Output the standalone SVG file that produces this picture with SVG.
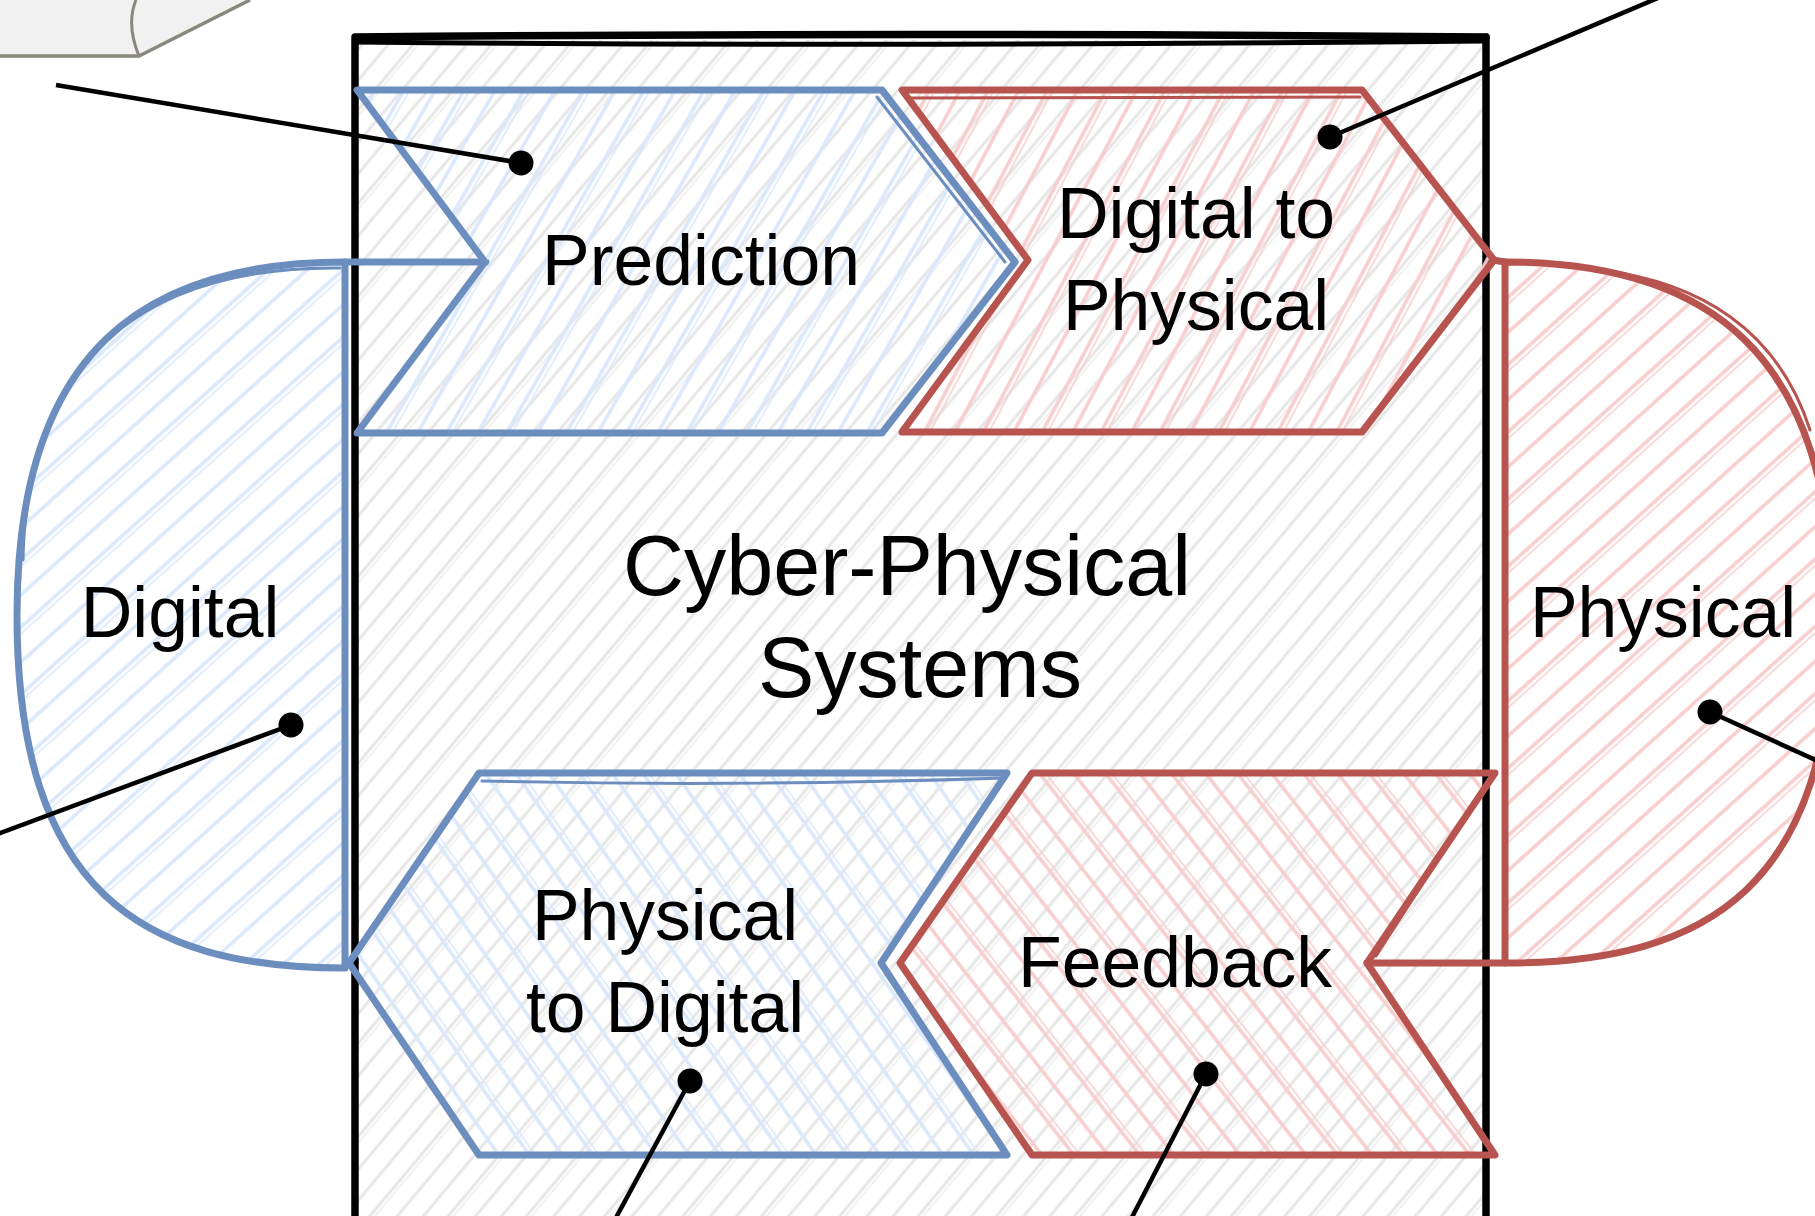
<svg xmlns="http://www.w3.org/2000/svg" width="1815" height="1216" viewBox="0 0 1815 1216">
  <defs>
    <!-- hachure fills, sketch style -->
    <pattern id="hatchGray" patternUnits="userSpaceOnUse" width="60" height="60" patternTransform="rotate(40)">
      <line x1="6" y1="0" x2="6" y2="60" stroke="#e6e6e6" stroke-width="3"/>
      <line x1="26" y1="0" x2="26" y2="60" stroke="#e6e6e6" stroke-width="3"/>
      <line x1="45" y1="0" x2="45" y2="60" stroke="#e6e6e6" stroke-width="3"/>
      <line x1="49" y1="0" x2="49" y2="60" stroke="#eeeeee" stroke-width="1.5"/>
    </pattern>
    <pattern id="hatchBlueUp" patternUnits="userSpaceOnUse" width="52" height="52" patternTransform="rotate(30)">
      <line x1="6" y1="0" x2="6" y2="52" stroke="#dae8fc" stroke-width="3.5"/>
      <line x1="31" y1="0" x2="31" y2="52" stroke="#dae8fc" stroke-width="3.5"/>
      <line x1="36" y1="0" x2="36" y2="52" stroke="#dae8fc" stroke-width="1.5"/>
    </pattern>
    <pattern id="hatchRedUp" patternUnits="userSpaceOnUse" width="52" height="52" patternTransform="rotate(28)">
      <line x1="6" y1="0" x2="6" y2="52" stroke="#f8cecc" stroke-width="3.5"/>
      <line x1="31" y1="0" x2="31" y2="52" stroke="#f8cecc" stroke-width="3.5"/>
      <line x1="36" y1="0" x2="36" y2="52" stroke="#f8cecc" stroke-width="1.5"/>
    </pattern>
    <pattern id="hatchBlueDown" patternUnits="userSpaceOnUse" width="52" height="52" patternTransform="rotate(-35)">
      <line x1="6" y1="0" x2="6" y2="52" stroke="#dae8fc" stroke-width="3.5"/>
      <line x1="31" y1="0" x2="31" y2="52" stroke="#dae8fc" stroke-width="3.5"/>
      <line x1="36" y1="0" x2="36" y2="52" stroke="#dae8fc" stroke-width="1.5"/>
    </pattern>
    <pattern id="hatchRedDown" patternUnits="userSpaceOnUse" width="52" height="52" patternTransform="rotate(-38)">
      <line x1="6" y1="0" x2="6" y2="52" stroke="#f8cecc" stroke-width="3.5"/>
      <line x1="31" y1="0" x2="31" y2="52" stroke="#f8cecc" stroke-width="3.5"/>
      <line x1="36" y1="0" x2="36" y2="52" stroke="#f8cecc" stroke-width="1.5"/>
    </pattern>
    <pattern id="hatchBlueSide" patternUnits="userSpaceOnUse" width="50" height="50" patternTransform="rotate(48)">
      <line x1="6" y1="0" x2="6" y2="50" stroke="#dae8fc" stroke-width="3.5"/>
      <line x1="30" y1="0" x2="30" y2="50" stroke="#dae8fc" stroke-width="3.5"/>
      <line x1="35" y1="0" x2="35" y2="50" stroke="#dae8fc" stroke-width="1.5"/>
    </pattern>
    <pattern id="hatchRedSide" patternUnits="userSpaceOnUse" width="50" height="50" patternTransform="rotate(48)">
      <line x1="6" y1="0" x2="6" y2="50" stroke="#f8cecc" stroke-width="3.5"/>
      <line x1="30" y1="0" x2="30" y2="50" stroke="#f8cecc" stroke-width="3.5"/>
      <line x1="35" y1="0" x2="35" y2="50" stroke="#f8cecc" stroke-width="1.5"/>
    </pattern>
  </defs>
  <style>
    .lbl { font-family: "Liberation Sans", Arial, sans-serif; font-size: 71.5px; fill: #000; text-anchor: middle; }
    .title { font-family: "Liberation Sans", Arial, sans-serif; font-size: 84.5px; fill: #000; text-anchor: middle; }
    .blue { stroke: #6c8ebf; stroke-width: 7; stroke-linejoin: round; stroke-linecap: round; }
    .red { stroke: #b85450; stroke-width: 7; stroke-linejoin: round; stroke-linecap: round; }
    .thin { stroke-width: 3; fill: none; }
    .frame { fill: none; stroke: #000; stroke-width: 7.5; stroke-linecap: round; }
    .conn { fill: none; stroke: #000; stroke-width: 4.5; }
    .dot { fill: #000; }
  </style>

  <rect x="0" y="0" width="1815" height="1216" fill="#ffffff"/>

  <!-- partial sheet in the top-left corner -->
  <g id="sheet">
    <path d="M0,0 L250,0 L139,56 L0,56 Z" fill="#f1f1f1"/>
    <path d="M0,56 L139,56 L250,0" fill="none" stroke="#8a877f" stroke-width="3.5"/>
    <path d="M139,56 Q126,24 136,0" fill="none" stroke="#8a877f" stroke-width="3"/>
  </g>

  <!-- container: Cyber-Physical Systems -->
  <g id="cps">
    <rect x="355" y="40" width="1131" height="1190" fill="url(#hatchGray)"/>
    <path class="frame" d="M355,1220 L355,40"/>
    <path class="frame" d="M355,37 Q920,32 1486,37"/>
    <path class="frame" d="M355,42 Q900,47 1486,41" style="stroke-width:5"/>
    <path class="frame" d="M1486,37 L1486,1220"/>
    <text class="title" x="907" y="595">Cyber-Physical</text>
    <text class="title" x="920" y="697">Systems</text>
  </g>

  <!-- Digital (left half-round) -->
  <g id="digital">
    <path class="blue" d="M345,262 C145,262 17,350 17,615 C17,890 140,968 345,968 Z" fill="url(#hatchBlueSide)"/>
    <path class="blue" d="M345,262 L486,262" fill="none"/>
    <path class="blue thin" d="M340,268 C160,266 27,345 23,560"/>
    <text class="lbl" x="180" y="637">Digital</text>
  </g>

  <!-- Physical (right half-round) -->
  <g id="physical">
    <path class="red" d="M1505,262 C1705,262 1833,350 1833,615 C1833,885 1710,963 1505,963 Z" fill="url(#hatchRedSide)"/>
    <path class="red" d="M1493,260 L1505,262" fill="none"/>
    <path class="red" d="M1367,963 L1505,963" fill="none"/>
    <path class="red thin" d="M1600,270 C1700,282 1778,330 1810,430"/>
    <text class="lbl" x="1663" y="637">Physical</text>
  </g>

  <!-- Prediction -->
  <g id="prediction">
    <path class="blue" d="M357,90 L882,90 L1015,262 L882,433 L357,433 L485,262 Z" fill="url(#hatchBlueUp)"/>
    <path class="blue thin" d="M877,97 L1005,262"/>
    <text class="lbl" x="701" y="285">Prediction</text>
  </g>

  <!-- Digital to Physical -->
  <g id="digital-to-physical">
    <path class="red" d="M902,90 L1362,90 L1494,260 L1362,432 L902,432 L1028,260 Z" fill="url(#hatchRedUp)"/>
    <path class="red thin" d="M906,98 L1360,97"/>
    <text class="lbl" x="1196" y="238">Digital to</text>
    <text class="lbl" x="1196" y="330">Physical</text>
  </g>

  <!-- Physical to Digital -->
  <g id="physical-to-digital">
    <path class="blue" d="M479,773 L1007,773 L881,963 L1007,1155 L479,1155 L349,963 Z" fill="url(#hatchBlueDown)"/>
    <path class="blue thin" d="M482,781 Q740,787 1004,778"/>
    <text class="lbl" x="665" y="940">Physical</text>
    <text class="lbl" x="665" y="1032">to Digital</text>
  </g>

  <!-- Feedback -->
  <g id="feedback">
    <path class="red" d="M1032,773 L1495,773 L1367,963 L1495,1155 L1032,1155 L900,963 Z" fill="url(#hatchRedDown)"/>
    <path class="red thin" d="M1488,782 L1376,956"/>
    <text class="lbl" x="1175" y="987">Feedback</text>
  </g>

  <!-- callout leaders -->
  <g id="connectors">
    <path class="conn" d="M56,85 L521,163"/>
    <circle class="dot" cx="521" cy="163" r="12.5"/>
    <path class="conn" d="M1330,137 L1665,-5"/>
    <circle class="dot" cx="1330" cy="137" r="12.5"/>
    <path class="conn" d="M291,725 L-5,835"/>
    <circle class="dot" cx="291" cy="725" r="12.5"/>
    <path class="conn" d="M1710,712 L1820,762"/>
    <circle class="dot" cx="1710" cy="712" r="12.5"/>
    <path class="conn" d="M690,1081 L612,1225"/>
    <circle class="dot" cx="690" cy="1081" r="12.5"/>
    <path class="conn" d="M1206,1074 L1128,1225"/>
    <circle class="dot" cx="1206" cy="1074" r="12.5"/>
  </g>
</svg>
